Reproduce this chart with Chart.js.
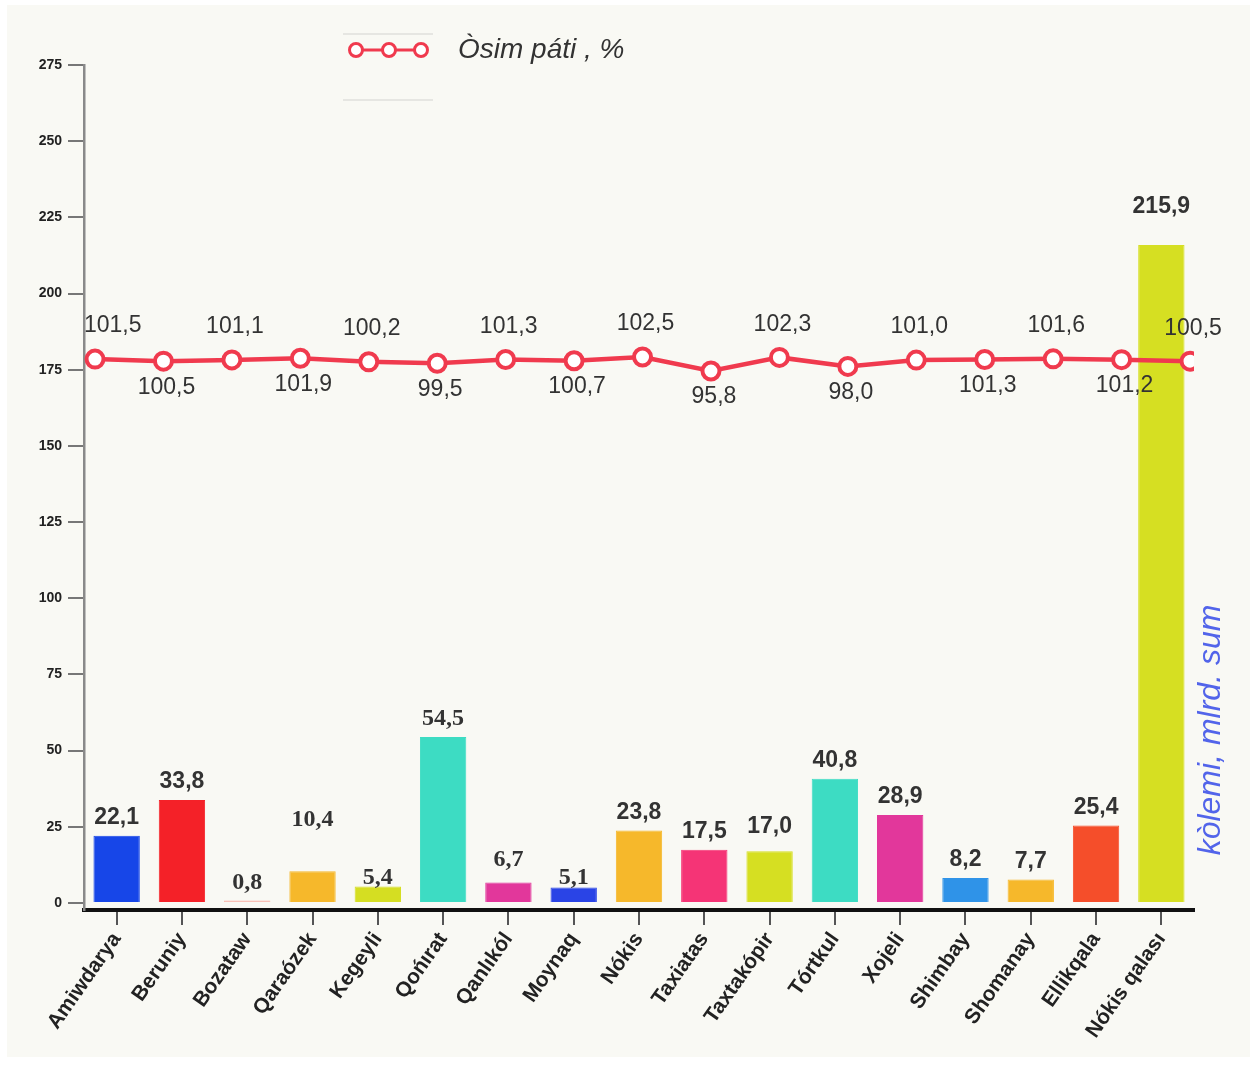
<!DOCTYPE html>
<html><head><meta charset="utf-8">
<script src="https://cdn.jsdelivr.net/npm/chart.js@4/dist/chart.umd.min.js"></script>
<style>html,body{margin:0;padding:0;background:#fff;overflow:hidden}canvas{display:block}</style>
</head><body>
<canvas id="c" width="1256" height="1066"></canvas>
<script>
// ---- data ----
const categories = ['Amiwdarya','Beruniy','Bozataw','Qaraózek','Kegeyli','Qońırat','Qanlıkól','Moynaq','Nókis','Taxiatas','Taxtakópir','Tórtkul','Xojeli','Shimbay','Shomanay','Ellikqala','Nókis qalası'];
const volume = [22.1, 33.8, 0.8, 10.4, 5.4, 54.5, 6.7, 5.1, 23.8, 17.5, 17.0, 40.8, 28.9, 8.2, 7.7, 25.4, 215.9];
const growth = [101.5, 100.5, 101.1, 101.9, 100.2, 99.5, 101.3, 100.7, 102.5, 95.8, 102.3, 98.0, 101.0, 101.3, 101.6, 101.2, 100.5];
const yTicks = [0, 25, 50, 75, 100, 125, 150, 175, 200, 225, 250, 275];
const seriesLine = 'Òsim páti , %';
const axisTitle = 'kòlemi, mlrd. sum';

// ---- styles ----
const barColors = ['#1746e8','#f42128','#f9b4a8','#f6b82b','#d5de22','#3ddcc3','#e2379b','#2a44e6','#f6b82b','#f53476','#d6df22','#3ddcc3','#e2379b','#2f93e8','#f6b82b','#f54e2a','#d6df22'];
const lineColor = '#f03a4e';
const serifLabelIdx = new Set([2,3,4,5,6,7]);
const labelLift = {3: 52, 4: 9, 7: 10, 6: 23, 10: 25, 16: 38};
const fmt = v => v.toFixed(1).replace('.', ',');

const decor = {
  id: 'decor',
  beforeDraw(chart) {
    const ctx = chart.ctx;
    ctx.save();
    ctx.fillStyle = '#ffffff';
    ctx.fillRect(0, 0, chart.width, chart.height);
    ctx.fillStyle = 'rgb(249,249,244)';
    ctx.fillRect(7, 5, 1243, 1052);
    ctx.restore();
  },
  afterDatasetsDraw(chart) {
    const ctx = chart.ctx;
    const area = chart.chartArea;
    ctx.save();
    // bar labels
    const bm = chart.getDatasetMeta(1);
    bm.data.forEach((el, i) => {
      const lift = labelLift[i] !== undefined ? labelLift[i] : 18;
      ctx.font = serifLabelIdx.has(i) ? 'bold 24px "Liberation Serif"' : 'bold 23px "Liberation Sans"';
      ctx.fillStyle = '#333';
      ctx.textAlign = 'center';
      ctx.textBaseline = 'middle';
      ctx.fillText(fmt(volume[i]), el.x, el.y - lift);
    });
    // line labels
    const lm = chart.getDatasetMeta(0);
    ctx.font = '23px "Liberation Sans"';
    lm.data.forEach((el, i) => {
      const t = fmt(growth[i]);
      const w = ctx.measureText(t).width;
      let cx = el.x + 3;
      if (cx - w / 2 < area.left) cx = area.left + w / 2;
      const cy = i % 2 === 0 ? el.y - 33 : el.y + 26;
      ctx.fillStyle = '#333';
      ctx.textAlign = 'center';
      ctx.textBaseline = 'middle';
      ctx.fillText(t, cx, cy);
    });
    // legend
    ctx.strokeStyle = '#e6e6e2';
    ctx.lineWidth = 2;
    ctx.beginPath();
    ctx.moveTo(343, 34); ctx.lineTo(433, 34);
    ctx.moveTo(343, 100); ctx.lineTo(433, 100);
    ctx.stroke();
    ctx.strokeStyle = lineColor;
    ctx.lineWidth = 3;
    ctx.beginPath(); ctx.moveTo(356, 50); ctx.lineTo(421, 50); ctx.stroke();
    [356, 389, 421].forEach(x => {
      ctx.beginPath(); ctx.arc(x, 50, 6.5, 0, Math.PI * 2);
      ctx.fillStyle = '#fff'; ctx.fill();
      ctx.lineWidth = 3; ctx.stroke();
    });
    ctx.font = 'italic 28px "Liberation Sans"';
    ctx.fillStyle = '#333';
    ctx.textAlign = 'left';
    ctx.textBaseline = 'middle';
    ctx.fillText(seriesLine, 458, 50);
    // right axis title
    ctx.translate(1211, 730);
    ctx.rotate(-Math.PI / 2);
    ctx.font = 'italic 32px "Liberation Sans"';
    ctx.fillStyle = '#5264ea';
    ctx.textAlign = 'center';
    ctx.textBaseline = 'middle';
    ctx.fillText(axisTitle, 0, 0);
    ctx.restore();
  }
};

new Chart(document.getElementById('c'), {
  data: {
    labels: categories,
    datasets: [
      {
        type: 'line', label: seriesLine, order: 0,
        data: growth.map((v, i) => ({x: i, y: v})),
        xAxisID: 'x2', yAxisID: 'y1',
        borderColor: lineColor, borderWidth: 4.5,
        pointRadius: 8.5, pointBorderWidth: 4, pointBackgroundColor: '#fff', pointBorderColor: lineColor,
        tension: 0
      },
      {
        type: 'bar', label: axisTitle, order: 1, grouped: false,
        data: volume, xAxisID: 'x', yAxisID: 'y',
        backgroundColor: barColors, borderColor: barColors, borderWidth: 1,
        barPercentage: 0.71, categoryPercentage: 1
      }
    ]
  },
  options: {
    responsive: false, animation: false, devicePixelRatio: 1,
    layout: {padding: {left: 0, right: 62, top: 65, bottom: 0}},
    plugins: {legend: {display: false}, tooltip: {enabled: false}},
    scales: {
      x: {
        type: 'category', offset: true,
        grid: {display: true, drawOnChartArea: false, drawTicks: true, tickLength: 15, color: '#555', lineWidth: 2, offset: false},
        border: {display: true, color: '#111', width: 4},
        ticks: {font: {family: 'Liberation Sans', weight: 'bold', size: 21}, color: '#222', maxRotation: 55, minRotation: 55, autoSkip: false, padding: 3},
        afterFit: s => { s.height = 156; }
      },
      y: {
        type: 'linear', position: 'left', min: -2.3, max: 275,
        afterBuildTicks: s => { s.ticks = yTicks.map(v => ({value: v})); },
        grid: {drawOnChartArea: false, tickLength: 16, color: '#777', lineWidth: 2},
        border: {display: true, color: '#8a8a8a', width: 2.5},
        ticks: {font: {family: 'Liberation Sans', weight: 'bold', size: 14}, color: '#222', padding: 6},
        afterFit: s => { s.width = 84; }
      },
      y1: {type: 'linear', display: false, min: -162.1, max: 242.2},
      x2: {type: 'linear', display: false, min: -0.161, max: 16.058}
    }
  },
  plugins: [decor]
});
</script>
</body></html>
